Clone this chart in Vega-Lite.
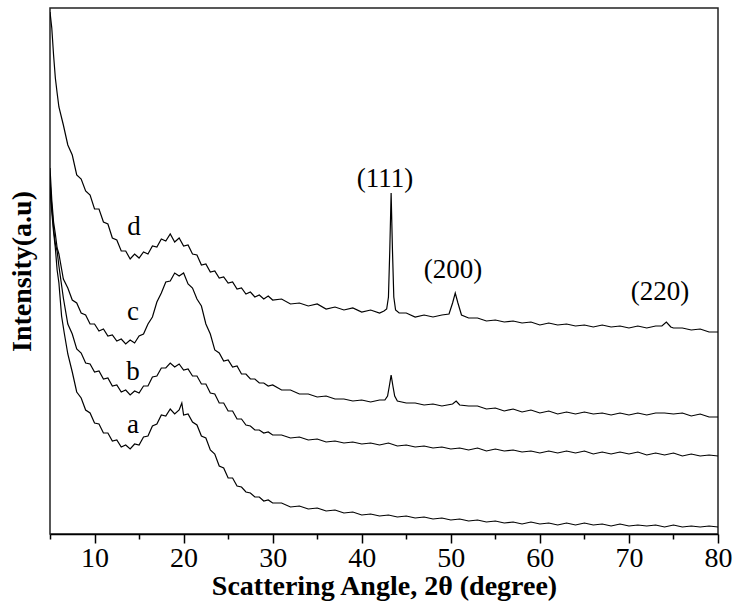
{
  "$schema": "https://vega.github.io/schema/vega-lite/v6.json",
  "width": 668,
  "height": 526,
  "autosize": {"type": "none"},
  "padding": {"left": 50, "top": 8, "right": 15, "bottom": 71},
  "background": "white",
  "config": {
    "view": {"stroke": "#222", "strokeWidth": 1.5},
    "font": "Liberation Serif"
  },
  "layer": [
    {
      "data": {"values": [
        {"s":"d","x":5.0,"y":522},{"s":"d","x":5.2,"y":506},{"s":"d","x":5.4,"y":479},{"s":"d","x":5.6,"y":456},{"s":"d","x":5.8,"y":441},{"s":"d","x":6.0,"y":427},{"s":"d","x":6.5,"y":409},{"s":"d","x":7.0,"y":389},{"s":"d","x":7.5,"y":379},{"s":"d","x":8.0,"y":359},{"s":"d","x":8.5,"y":355},{"s":"d","x":9.0,"y":343},{"s":"d","x":9.5,"y":339},{"s":"d","x":10.0,"y":325},{"s":"d","x":10.5,"y":325},{"s":"d","x":11.0,"y":312},{"s":"d","x":11.5,"y":310},{"s":"d","x":12.0,"y":296},{"s":"d","x":12.5,"y":294},{"s":"d","x":13.0,"y":283},{"s":"d","x":13.5,"y":283},{"s":"d","x":14.0,"y":275},{"s":"d","x":14.5,"y":280},{"s":"d","x":15.0,"y":276},{"s":"d","x":15.5,"y":282},{"s":"d","x":16.0,"y":280},{"s":"d","x":16.5,"y":288},{"s":"d","x":17.0,"y":287},{"s":"d","x":17.5,"y":295},{"s":"d","x":18.0,"y":293},{"s":"d","x":18.5,"y":300},{"s":"d","x":19.0,"y":292},{"s":"d","x":19.5,"y":296},{"s":"d","x":20.0,"y":288},{"s":"d","x":20.5,"y":289},{"s":"d","x":21.0,"y":280},{"s":"d","x":21.5,"y":279},{"s":"d","x":22.0,"y":269},{"s":"d","x":22.5,"y":270},{"s":"d","x":23.0,"y":262},{"s":"d","x":23.5,"y":263},{"s":"d","x":24.0,"y":256},{"s":"d","x":24.5,"y":257},{"s":"d","x":25.0,"y":251},{"s":"d","x":25.5,"y":252},{"s":"d","x":26.0,"y":245},{"s":"d","x":26.5,"y":246},{"s":"d","x":27.0,"y":240},{"s":"d","x":27.5,"y":242},{"s":"d","x":28.0,"y":237},{"s":"d","x":28.5,"y":239},{"s":"d","x":29.0,"y":235},{"s":"d","x":29.5,"y":238},{"s":"d","x":30,"y":234},{"s":"d","x":31,"y":235},{"s":"d","x":32,"y":230},{"s":"d","x":33,"y":231},{"s":"d","x":34,"y":228},{"s":"d","x":35,"y":230},{"s":"d","x":36,"y":225},{"s":"d","x":37,"y":227},{"s":"d","x":38,"y":224},{"s":"d","x":39,"y":226},{"s":"d","x":40,"y":222},{"s":"d","x":41,"y":224},{"s":"d","x":42,"y":221},{"s":"d","x":42.5,"y":223},{"s":"d","x":42.8,"y":225},{"s":"d","x":43.0,"y":237},{"s":"d","x":43.15,"y":284},{"s":"d","x":43.3,"y":341},{"s":"d","x":43.45,"y":284},{"s":"d","x":43.6,"y":237},{"s":"d","x":43.8,"y":224},{"s":"d","x":44.2,"y":221},{"s":"d","x":45,"y":221},{"s":"d","x":46,"y":217},{"s":"d","x":47,"y":219},{"s":"d","x":48,"y":217},{"s":"d","x":49,"y":219},{"s":"d","x":49.8,"y":220},{"s":"d","x":50.2,"y":231},{"s":"d","x":50.5,"y":241},{"s":"d","x":50.8,"y":231},{"s":"d","x":51.2,"y":219},{"s":"d","x":52,"y":216},{"s":"d","x":53,"y":216},{"s":"d","x":54,"y":213},{"s":"d","x":55,"y":214},{"s":"d","x":56,"y":212},{"s":"d","x":57,"y":213},{"s":"d","x":58,"y":211},{"s":"d","x":59,"y":212},{"s":"d","x":60,"y":209},{"s":"d","x":61,"y":211},{"s":"d","x":62,"y":209},{"s":"d","x":63,"y":210},{"s":"d","x":64,"y":208},{"s":"d","x":65,"y":209},{"s":"d","x":66,"y":207},{"s":"d","x":67,"y":209},{"s":"d","x":68,"y":207},{"s":"d","x":69,"y":208},{"s":"d","x":70,"y":206},{"s":"d","x":71,"y":208},{"s":"d","x":72,"y":206},{"s":"d","x":73,"y":208},{"s":"d","x":73.7,"y":208},{"s":"d","x":74.2,"y":212},{"s":"d","x":74.7,"y":207},{"s":"d","x":75,"y":206},{"s":"d","x":76,"y":206},{"s":"d","x":77,"y":204},{"s":"d","x":78,"y":205},{"s":"d","x":79,"y":202},{"s":"d","x":80,"y":202},
        {"s":"c","x":5.0,"y":366},{"s":"c","x":5.2,"y":334},{"s":"c","x":5.4,"y":312},{"s":"c","x":5.6,"y":300},{"s":"c","x":5.8,"y":286},{"s":"c","x":6.0,"y":280},{"s":"c","x":6.5,"y":255},{"s":"c","x":7.0,"y":246},{"s":"c","x":7.5,"y":234},{"s":"c","x":8.0,"y":231},{"s":"c","x":8.5,"y":221},{"s":"c","x":9.0,"y":219},{"s":"c","x":9.5,"y":210},{"s":"c","x":10.0,"y":210},{"s":"c","x":10.5,"y":203},{"s":"c","x":11.0,"y":205},{"s":"c","x":11.5,"y":198},{"s":"c","x":12.0,"y":199},{"s":"c","x":12.5,"y":193},{"s":"c","x":13.0,"y":195},{"s":"c","x":13.5,"y":190},{"s":"c","x":14.0,"y":194},{"s":"c","x":14.5,"y":191},{"s":"c","x":15.0,"y":198},{"s":"c","x":15.5,"y":200},{"s":"c","x":16.0,"y":210},{"s":"c","x":16.5,"y":217},{"s":"c","x":17.0,"y":232},{"s":"c","x":17.5,"y":241},{"s":"c","x":18.0,"y":252},{"s":"c","x":18.5,"y":253},{"s":"c","x":19.0,"y":261},{"s":"c","x":19.5,"y":258},{"s":"c","x":20.0,"y":261},{"s":"c","x":20.5,"y":250},{"s":"c","x":21.0,"y":246},{"s":"c","x":21.5,"y":235},{"s":"c","x":22.0,"y":228},{"s":"c","x":22.5,"y":210},{"s":"c","x":23.0,"y":200},{"s":"c","x":23.5,"y":184},{"s":"c","x":24.0,"y":181},{"s":"c","x":24.5,"y":173},{"s":"c","x":25.0,"y":174},{"s":"c","x":25.5,"y":167},{"s":"c","x":26.0,"y":168},{"s":"c","x":26.5,"y":160},{"s":"c","x":27.0,"y":160},{"s":"c","x":27.5,"y":155},{"s":"c","x":28.0,"y":155},{"s":"c","x":28.5,"y":151},{"s":"c","x":29.0,"y":151},{"s":"c","x":29.5,"y":148},{"s":"c","x":30,"y":149},{"s":"c","x":31,"y":144},{"s":"c","x":32,"y":144},{"s":"c","x":33,"y":140},{"s":"c","x":34,"y":140},{"s":"c","x":35,"y":137},{"s":"c","x":36,"y":138},{"s":"c","x":37,"y":135},{"s":"c","x":38,"y":135},{"s":"c","x":39,"y":133},{"s":"c","x":40,"y":134},{"s":"c","x":41,"y":132},{"s":"c","x":42,"y":134},{"s":"c","x":42.6,"y":134},{"s":"c","x":42.9,"y":138},{"s":"c","x":43.1,"y":148},{"s":"c","x":43.3,"y":159},{"s":"c","x":43.5,"y":148},{"s":"c","x":43.7,"y":138},{"s":"c","x":44.0,"y":133},{"s":"c","x":45,"y":131},{"s":"c","x":46,"y":131},{"s":"c","x":47,"y":129},{"s":"c","x":48,"y":130},{"s":"c","x":49,"y":128},{"s":"c","x":50.2,"y":130},{"s":"c","x":50.6,"y":133},{"s":"c","x":51.0,"y":129},{"s":"c","x":52,"y":128},{"s":"c","x":53,"y":128},{"s":"c","x":54,"y":125},{"s":"c","x":55,"y":126},{"s":"c","x":56,"y":123},{"s":"c","x":57,"y":125},{"s":"c","x":58,"y":122},{"s":"c","x":59,"y":124},{"s":"c","x":60,"y":121},{"s":"c","x":61,"y":123},{"s":"c","x":62,"y":120},{"s":"c","x":63,"y":122},{"s":"c","x":64,"y":120},{"s":"c","x":65,"y":122},{"s":"c","x":66,"y":120},{"s":"c","x":67,"y":121},{"s":"c","x":68,"y":119},{"s":"c","x":69,"y":121},{"s":"c","x":70,"y":119},{"s":"c","x":71,"y":121},{"s":"c","x":72,"y":119},{"s":"c","x":73,"y":121},{"s":"c","x":74,"y":121},{"s":"c","x":75,"y":120},{"s":"c","x":76,"y":121},{"s":"c","x":77,"y":118},{"s":"c","x":78,"y":120},{"s":"c","x":79,"y":117},{"s":"c","x":80,"y":117},
        {"s":"b","x":5.0,"y":354},{"s":"b","x":5.2,"y":327},{"s":"b","x":5.4,"y":306},{"s":"b","x":5.6,"y":290},{"s":"b","x":5.8,"y":283},{"s":"b","x":6.0,"y":268},{"s":"b","x":6.5,"y":236},{"s":"b","x":7.0,"y":210},{"s":"b","x":7.5,"y":200},{"s":"b","x":8.0,"y":185},{"s":"b","x":8.5,"y":181},{"s":"b","x":9.0,"y":171},{"s":"b","x":9.5,"y":170},{"s":"b","x":10.0,"y":162},{"s":"b","x":10.5,"y":163},{"s":"b","x":11.0,"y":155},{"s":"b","x":11.5,"y":156},{"s":"b","x":12.0,"y":148},{"s":"b","x":12.5,"y":149},{"s":"b","x":13.0,"y":142},{"s":"b","x":13.5,"y":144},{"s":"b","x":14.0,"y":139},{"s":"b","x":14.5,"y":143},{"s":"b","x":15.0,"y":141},{"s":"b","x":15.5,"y":148},{"s":"b","x":16.0,"y":148},{"s":"b","x":16.5,"y":157},{"s":"b","x":17.0,"y":158},{"s":"b","x":17.5,"y":166},{"s":"b","x":18.0,"y":166},{"s":"b","x":18.5,"y":171},{"s":"b","x":19.0,"y":167},{"s":"b","x":19.5,"y":170},{"s":"b","x":20.0,"y":164},{"s":"b","x":20.5,"y":165},{"s":"b","x":21.0,"y":158},{"s":"b","x":21.5,"y":158},{"s":"b","x":22.0,"y":150},{"s":"b","x":22.5,"y":150},{"s":"b","x":23.0,"y":141},{"s":"b","x":23.5,"y":140},{"s":"b","x":24.0,"y":131},{"s":"b","x":24.5,"y":131},{"s":"b","x":25.0,"y":123},{"s":"b","x":25.5,"y":123},{"s":"b","x":26.0,"y":115},{"s":"b","x":26.5,"y":115},{"s":"b","x":27.0,"y":109},{"s":"b","x":27.5,"y":108},{"s":"b","x":28.0,"y":104},{"s":"b","x":28.5,"y":104},{"s":"b","x":29.0,"y":101},{"s":"b","x":29.5,"y":102},{"s":"b","x":30,"y":99},{"s":"b","x":31,"y":99},{"s":"b","x":32,"y":96},{"s":"b","x":33,"y":97},{"s":"b","x":34,"y":94},{"s":"b","x":35,"y":95},{"s":"b","x":36,"y":92},{"s":"b","x":37,"y":93},{"s":"b","x":38,"y":91},{"s":"b","x":39,"y":92},{"s":"b","x":40,"y":90},{"s":"b","x":41,"y":91},{"s":"b","x":42,"y":89},{"s":"b","x":43,"y":91},{"s":"b","x":44,"y":88},{"s":"b","x":45,"y":89},{"s":"b","x":46,"y":87},{"s":"b","x":47,"y":88},{"s":"b","x":48,"y":86},{"s":"b","x":49,"y":87},{"s":"b","x":50,"y":85},{"s":"b","x":51,"y":86},{"s":"b","x":52,"y":84},{"s":"b","x":53,"y":86},{"s":"b","x":54,"y":83},{"s":"b","x":55,"y":85},{"s":"b","x":56,"y":83},{"s":"b","x":57,"y":84},{"s":"b","x":58,"y":82},{"s":"b","x":59,"y":83},{"s":"b","x":60,"y":81},{"s":"b","x":61,"y":83},{"s":"b","x":62,"y":81},{"s":"b","x":63,"y":83},{"s":"b","x":64,"y":81},{"s":"b","x":65,"y":83},{"s":"b","x":66,"y":80},{"s":"b","x":67,"y":82},{"s":"b","x":68,"y":80},{"s":"b","x":69,"y":82},{"s":"b","x":70,"y":80},{"s":"b","x":71,"y":82},{"s":"b","x":72,"y":79},{"s":"b","x":73,"y":81},{"s":"b","x":74,"y":79},{"s":"b","x":75,"y":81},{"s":"b","x":76,"y":78},{"s":"b","x":77,"y":80},{"s":"b","x":78,"y":78},{"s":"b","x":79,"y":79},{"s":"b","x":80,"y":78},
        {"s":"a","x":5.0,"y":344},{"s":"a","x":5.2,"y":322},{"s":"a","x":5.4,"y":302},{"s":"a","x":5.6,"y":286},{"s":"a","x":5.8,"y":264},{"s":"a","x":6.0,"y":251},{"s":"a","x":6.3,"y":218},{"s":"a","x":6.6,"y":201},{"s":"a","x":7.0,"y":180},{"s":"a","x":7.5,"y":162},{"s":"a","x":8.0,"y":142},{"s":"a","x":8.5,"y":136},{"s":"a","x":9.0,"y":124},{"s":"a","x":9.5,"y":121},{"s":"a","x":10.0,"y":111},{"s":"a","x":10.5,"y":110},{"s":"a","x":11.0,"y":101},{"s":"a","x":11.5,"y":101},{"s":"a","x":12.0,"y":93},{"s":"a","x":12.5,"y":94},{"s":"a","x":13.0,"y":87},{"s":"a","x":13.5,"y":89},{"s":"a","x":14.0,"y":85},{"s":"a","x":14.5,"y":90},{"s":"a","x":15.0,"y":89},{"s":"a","x":15.5,"y":97},{"s":"a","x":16.0,"y":98},{"s":"a","x":16.5,"y":108},{"s":"a","x":17.0,"y":110},{"s":"a","x":17.5,"y":119},{"s":"a","x":18.0,"y":118},{"s":"a","x":18.5,"y":125},{"s":"a","x":19.0,"y":120},{"s":"a","x":19.5,"y":124},{"s":"a","x":19.8,"y":131},{"s":"a","x":20.0,"y":119},{"s":"a","x":20.5,"y":120},{"s":"a","x":21.0,"y":112},{"s":"a","x":21.5,"y":109},{"s":"a","x":22.0,"y":98},{"s":"a","x":22.5,"y":96},{"s":"a","x":23.0,"y":84},{"s":"a","x":23.5,"y":80},{"s":"a","x":24.0,"y":68},{"s":"a","x":24.5,"y":66},{"s":"a","x":25.0,"y":56},{"s":"a","x":25.5,"y":56},{"s":"a","x":26.0,"y":48},{"s":"a","x":26.5,"y":47},{"s":"a","x":27.0,"y":42},{"s":"a","x":27.5,"y":41},{"s":"a","x":28.0,"y":37},{"s":"a","x":28.5,"y":37},{"s":"a","x":29.0,"y":33},{"s":"a","x":29.5,"y":34},{"s":"a","x":30,"y":31},{"s":"a","x":31,"y":31},{"s":"a","x":32,"y":27},{"s":"a","x":33,"y":28},{"s":"a","x":34,"y":25},{"s":"a","x":35,"y":26},{"s":"a","x":36,"y":23},{"s":"a","x":37,"y":24},{"s":"a","x":38,"y":21},{"s":"a","x":39,"y":22},{"s":"a","x":40,"y":19},{"s":"a","x":41,"y":20},{"s":"a","x":42,"y":18},{"s":"a","x":43,"y":19},{"s":"a","x":44,"y":17},{"s":"a","x":45,"y":18},{"s":"a","x":46,"y":16},{"s":"a","x":47,"y":17},{"s":"a","x":48,"y":15},{"s":"a","x":49,"y":16},{"s":"a","x":50,"y":14},{"s":"a","x":51,"y":15},{"s":"a","x":52,"y":13},{"s":"a","x":53,"y":14},{"s":"a","x":54,"y":12},{"s":"a","x":55,"y":13},{"s":"a","x":56,"y":11},{"s":"a","x":57,"y":12},{"s":"a","x":58,"y":10},{"s":"a","x":59,"y":12},{"s":"a","x":60,"y":10},{"s":"a","x":61,"y":11},{"s":"a","x":62,"y":9},{"s":"a","x":63,"y":11},{"s":"a","x":64,"y":9},{"s":"a","x":65,"y":11},{"s":"a","x":66,"y":9},{"s":"a","x":67,"y":10},{"s":"a","x":68,"y":8},{"s":"a","x":69,"y":10},{"s":"a","x":70,"y":8},{"s":"a","x":71,"y":9},{"s":"a","x":72,"y":8},{"s":"a","x":73,"y":9},{"s":"a","x":74,"y":7},{"s":"a","x":75,"y":9},{"s":"a","x":76,"y":7},{"s":"a","x":77,"y":8},{"s":"a","x":78,"y":7},{"s":"a","x":79,"y":8},{"s":"a","x":80,"y":7}
      ]},
      "mark": {"type": "line", "color": "black", "clip": true, "strokeJoin": "miter"},
      "encoding": {
        "x": {
          "field": "x", "type": "quantitative",
          "scale": {"domain": [5, 80], "nice": false, "zero": false},
          "axis": {
            "title": "Scattering Angle, 2θ (degree)",
            "titleFont": "Liberation Serif", "titleFontSize": 28, "titleFontWeight": "bold", "titleColor": "black",
            "titlePadding": 0,
            "values": [5,10,15,20,25,30,35,40,45,50,55,60,65,70,75,80],
            "labelExpr": "datum.value % 10 === 0 ? datum.label : ''",
            "labelFont": "Liberation Serif", "labelFontSize": 28, "labelColor": "black",
            "labelPadding": 1, "labelFlush": false, "labelOverlap": false,
            "tickSize": {"condition": {"test": "datum.value % 10 === 0", "value": 9}, "value": 5},
            "tickColor": "black", "tickWidth": 1.5,
            "domainColor": "black", "domainWidth": 1.5,
            "grid": false
          }
        },
        "y": {
          "field": "y", "type": "quantitative",
          "scale": {"domain": [0, 526], "nice": false, "zero": false},
          "axis": {
            "title": "Intensity(a.u)",
            "titleFont": "Liberation Serif", "titleFontSize": 28, "titleFontWeight": "bold", "titleColor": "black",
            "titlePadding": 14,
            "labels": false, "ticks": false, "domain": false, "grid": false
          }
        },
        "detail": {"field": "s", "type": "nominal"},
        "strokeWidth": {"field": "s", "type": "nominal", "scale": {"domain": ["a","b","c","d"], "range": [1.2, 1.2, 1.2, 2.0]}, "legend": null}
      }
    },
    {
      "data": {"values": [
        {"t":"d","x":14.43,"y":299},
        {"t":"c","x":14.32,"y":214},
        {"t":"b","x":14.32,"y":154},
        {"t":"a","x":14.32,"y":101},
        {"t":"(111)","x":42.6,"y":347},
        {"t":"(200)","x":50.25,"y":256},
        {"t":"(220)","x":73.5,"y":234}
      ]},
      "mark": {"type": "text", "font": "Liberation Serif", "fontSize": 27, "color": "black", "align": "center", "baseline": "alphabetic"},
      "encoding": {
        "x": {"field": "x", "type": "quantitative"},
        "y": {"field": "y", "type": "quantitative"},
        "text": {"field": "t"}
      }
    }
  ]
}
